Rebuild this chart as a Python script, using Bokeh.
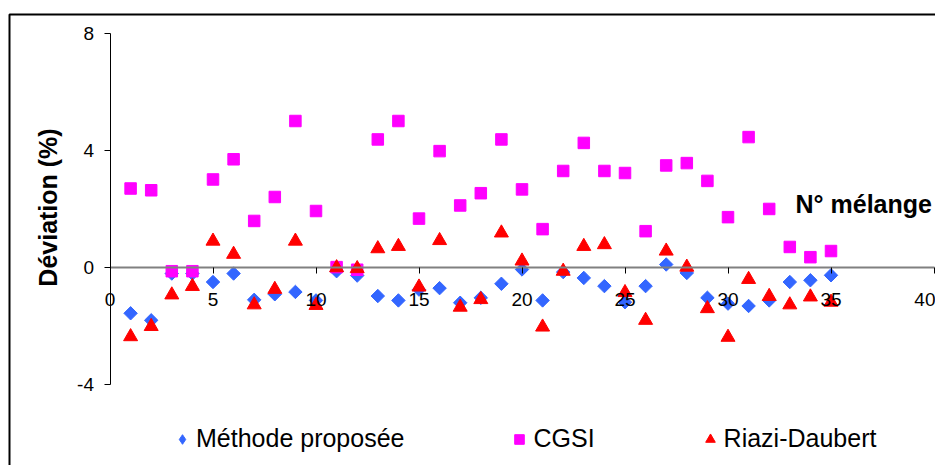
import numpy as np
from bokeh.plotting import figure
from bokeh.models import (LinearAxis, FixedTicker, Label, Legend, LegendItem,
                          PolyAnnotation, Range1d, ColumnDataSource)
from bokeh.embed import file_html
from bokeh.resources import INLINE

# ---------------- data ----------------
melange = list(range(1, 36))
methode = [-1.56, -1.80, -0.20, -0.20, -0.49, -0.20, -1.10, -0.91, -0.83, -1.12,
           -0.12, -0.27, -0.97, -1.12, -0.75, -0.70, -1.20, -1.03, -0.55, -0.06,
           -1.12, -0.15, -0.35, -0.63, -1.18, -0.63, 0.11, -0.18, -1.03, -1.23,
           -1.31, -1.12, -0.49, -0.43, -0.26]
cgsi = [2.71, 2.65, -0.12, -0.12, 3.02, 3.71, 1.60, 2.42, 5.02, 1.94,
        0.02, -0.07, 4.39, 5.02, 1.68, 3.99, 2.13, 2.55, 4.39, 2.68,
        1.32, 3.31, 4.27, 3.31, 3.24, 1.25, 3.50, 3.58, 2.97, 1.73,
        4.47, 2.01, 0.71, 0.36, 0.57]
riazi = [-2.36, -2.01, -0.93, -0.64, 0.91, 0.46, -1.27, -0.74, 0.91, -1.29,
         0.00, -0.03, 0.65, 0.73, -0.66, 0.93, -1.35, -1.09, 1.19, 0.23,
         -2.03, -0.12, 0.73, 0.79, -0.85, -1.80, 0.57, 0.02, -1.40, -2.38,
         -0.40, -0.98, -1.27, -1.00, -1.18]
series_names = ["Méthode proposée", "CGSI", "Riazi-Daubert"]
x_ticks = [0, 5, 10, 15, 20, 25, 30, 35, 40]
y_ticks = [-4, 0, 4, 8]
x_title = "N° mélange"
y_title = "Déviation (%)"

# ---------------- layout ----------------
W, H = 935, 465
px_per_x = 20.6
x0_px = 109.5
px_per_y = 29.22
y0_px = 267.2

x_start = -x0_px / px_per_x
x_end = (W - x0_px) / px_per_x
y_end = y0_px / px_per_y
y_start = -(H - y0_px) / px_per_y

FONT = "Liberation Sans"
BLUE, PINK, RED = "#3366FF", "#FF00FF", "#FF0000"

p = figure(width=W, height=H, x_range=Range1d(x_start, x_end),
           y_range=Range1d(y_start, y_end), output_backend="svg",
           toolbar_location=None, x_axis_location=None, y_axis_location=None,
           min_border=0)
p.outline_line_color = None
p.background_fill_color = "white"
p.border_fill_color = "white"
p.grid.grid_line_color = None

# outer chart border (only left and top edges fall inside the window)
border = PolyAnnotation(xs=[9, 9, W + 60, W + 60], ys=[-60, H - 14, H - 14, -60],
                        xs_units="screen", ys_units="screen",
                        fill_alpha=0, line_color="black", line_alpha=1.0, line_width=2)
p.add_layout(border)

# y axis at x = 0
yax = LinearAxis(fixed_location=0, ticker=FixedTicker(ticks=y_ticks))
yax.bounds = (y_ticks[0], y_ticks[-1])
yax.axis_line_color = "black"
yax.axis_line_width = 1
yax.major_tick_line_color = "black"
yax.major_tick_out = 6
yax.major_tick_in = 0
yax.minor_tick_line_color = None
yax.major_label_standoff = 10
yax.major_label_text_font = FONT
yax.major_label_text_font_size = "19px"
yax.major_label_text_color = "black"
yax.major_label_overrides = {t: str(t) for t in y_ticks}
p.add_layout(yax, "left")

# x axis at y = 0
xax = LinearAxis(fixed_location=0, ticker=FixedTicker(ticks=x_ticks))
xax.bounds = (x_ticks[0], x_ticks[-1])
xax.axis_line_color = "#808080"
xax.axis_line_width = 2
xax.major_tick_line_color = "black"
xax.major_tick_out = 6
xax.major_tick_in = 0
xax.minor_tick_line_color = None
xax.major_label_standoff = 19
xax.major_label_text_font = FONT
xax.major_label_text_font_size = "19px"
xax.major_label_text_color = "black"
xax.major_label_overrides = {t: str(t) for t in x_ticks}
p.add_layout(xax, "below")

# series
src = ColumnDataSource(dict(x=melange, m=methode, c=cgsi, r=riazi))
# diamond-shaped key for the legend (small, hidden under the rotated squares)
r1_key = p.scatter("x", "m", source=src, marker="diamond", size=6,
                   fill_color=BLUE, line_color=BLUE)
r1 = p.scatter("x", "m", source=src, marker="square", angle=np.pi / 4, size=9.5,
               fill_color=BLUE, line_color=BLUE)
r2 = p.scatter("x", "c", source=src, marker="square", size=11.5,
               fill_color=PINK, line_color=PINK)
r3 = p.scatter("x", "r", source=src, marker="triangle", size=14,
               fill_color=RED, line_color=RED)

# titles
p.add_layout(Label(x=47, y=H - 207, x_units="screen", y_units="screen", text=y_title,
                   angle=np.pi / 2, text_align="center", text_baseline="middle",
                   text_font=FONT, text_font_size="25px", text_font_style="bold",
                   text_color="black"))
p.add_layout(Label(x=795, y=H - 203.3, x_units="screen", y_units="screen", text=x_title,
                   text_align="left", text_baseline="alphabetic",
                   text_font=FONT, text_font_size="25px", text_font_style="bold",
                   text_color="black"))

# legend
legend = Legend(items=[LegendItem(label=series_names[0], renderers=[r1_key]),
                       LegendItem(label=series_names[1], renderers=[r2]),
                       LegendItem(label=series_names[2], renderers=[r3])],
                orientation="horizontal", location=(170, 12), margin=0, padding=0,
                spacing=103, glyph_width=24, glyph_height=24, label_height=24,
                label_standoff=2, label_text_font=FONT, label_text_font_size="25px",
                label_text_color="black", border_line_color=None,
                background_fill_alpha=0)
p.add_layout(legend)

open("out.html", "w").write(file_html(p, INLINE))
